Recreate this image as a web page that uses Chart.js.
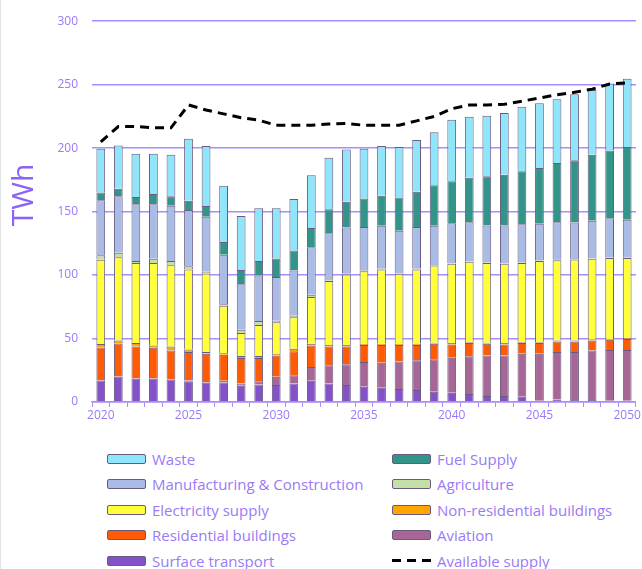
<!DOCTYPE html>
<html>
<head>
<meta charset="utf-8">
<script src="https://cdn.jsdelivr.net/npm/chart.js@4.4.1/dist/chart.umd.min.js"></script>
<style>
  body { margin: 0; background: #fff; font-family: 'Open Sans', sans-serif; }
  #wrap { position: relative; width: 642px; height: 569px; overflow: hidden; }
  #edge { position: absolute; left: 0; top: 0; width: 1px; height: 569px; background: #e2e2e2; }
  #box { position: absolute; left: 0; top: 0; width: 642px; height: 430px; }
  #legend { position: absolute; left: 107px; top: 446px; display: grid;
            grid-template-columns: 285px 250px; grid-auto-rows: 25.5px; }
  .item { display: flex; align-items: center; font-size: 15px; color: #9a7af5; white-space: nowrap; }
  .swatch { width: 37px; height: 8px; border: 1.5px solid #6a5a80; border-radius: 2px; margin-right: 6px; }
  .dash { width: 40px; height: 3px; margin-right: 5px;
          background: repeating-linear-gradient(90deg, #000 0 9px, transparent 9px 15px); }
</style>
</head>
<body>
<div id="wrap">
  <div id="edge"></div>
  <div id="box"><canvas id="emissionsChart"></canvas></div>
  <div id="legend"></div>
</div>
<script>
const years = ['2020','2021','2022','2023','2024','2025','2026','2027','2028','2029',
               '2030','2031','2032','2033','2034','2035','2036','2037','2038','2039',
               '2040','2041','2042','2043','2044','2045','2046','2047','2048','2049','2050'];

// TWh per sector, bottom of the stack first
const surfaceTransport = [17, 20, 18.5, 18.5, 17.7, 16.4, 15.4, 15.4, 12.8, 13.8,
                          13.3, 14.6, 16.7, 14.6, 13.3, 12, 11.2, 10.2, 9.4, 8,
                          7.3, 6.3, 4.7, 4.7, 4.2, 1, 2, 1.5, 1.5, 1, 1];
const aviation = [0, 0, 0, 0, 0, 0.5, 0.4, 1.3, 1.8, 2.6,
                  6.5, 6.4, 10.9, 14.4, 16.4, 19.5, 19.8, 21.8, 23.4, 25.6,
                  27.6, 29.7, 32, 32, 33.8, 37, 37.3, 37.8, 39.1, 40, 40];
const residential = [26, 26, 25.2, 24.2, 22.9, 22.4, 22.2, 20.5, 20, 18.2,
                     16.9, 19, 16.9, 14.8, 14.1, 13.5, 14, 13, 12.2, 12.2,
                     10.4, 10.4, 9.1, 8.6, 8.4, 8.4, 8.4, 8.4, 7.8, 8, 8.7];
const nonResidential = [2.6, 2.5, 2.7, 1.8, 3.2, 2.1, 1.3, 1.3, 1.6, 1.6,
                        1.3, 2, 1.3, 1.2, 1.2, 0.8, 0.8, 0.8, 0.8, 0.8,
                        1.1, 0.6, 0.8, 1.1, 0.6, 0.6, 0.7, 0.7, 0.8, 0.7, 0.8];
const electricity = [66.4, 65.5, 63.2, 65.1, 64, 63, 62, 37.3, 18.2, 24.5,
                     24.8, 24.7, 37, 50.3, 55.5, 57.2, 58.6, 55.2, 58.6, 60.9,
                     62.5, 63.4, 63, 62.5, 62.6, 64, 63.3, 63.8, 63.6, 63.8, 63];
const agriculture = [3.6, 3.5, 1.4, 3.2, 3.2, 2.6, 1.3, 1.2, 2.6, 3.1,
                     1.2, 1.3, 1.6, 0.7, 0.8, 0.6, 0.5, 0.5, 0.5, 0.5,
                     0.5, 0.5, 0.5, 0.5, 0.5, 0.5, 0.5, 0.5, 0.5, 0.5, 0.5];
const manufacturing = [43.4, 44.5, 44.7, 42.9, 43.7, 44.3, 43.4, 39, 35.7, 35.9,
                       34.4, 35.6, 37.5, 37, 36.2, 34.2, 33.9, 33.5, 32.9, 30.8,
                       31.5, 30.8, 28.9, 29.6, 29.9, 28.9, 29.5, 28.7, 29.4, 30.8, 29.5];
const fuelSupply = [6, 6, 5.8, 8.1, 7.3, 7.3, 8.4, 10, 11.2, 11.3,
                    14.6, 15.7, 15.1, 18.8, 20.3, 22.6, 23.7, 26.2, 27.8, 32,
                    33.1, 34.9, 38.9, 40, 41.8, 44, 46.6, 49, 52.1, 53.4, 57.3];
const waste = [34.5, 34, 34.1, 31.8, 32.8, 48.7, 47.2, 44.3, 42.7, 41.6,
               39.6, 40.7, 41.6, 40.6, 41.2, 39.1, 39.1, 39.6, 40.9, 41.7,
               48.4, 48.1, 47.6, 48.6, 50.8, 51, 50.2, 52, 51, 52.8, 53.9];
const availableSupply = [205, 217, 217, 216, 216, 234, 230, 227, 224, 222,
                         218, 218, 218, 219, 219.5, 218, 218, 218, 221.5, 225,
                         231, 234, 234, 234.5, 237, 239.5, 242, 244, 246.5, 250.5, 251.5];

const yTicks = [0, 50, 100, 150, 200, 250, 300];
const legendOrder = ['Waste', 'Fuel Supply', 'Manufacturing & Construction', 'Agriculture',
                     'Electricity supply', 'Non-residential buildings', 'Residential buildings',
                     'Aviation', 'Surface transport', 'Available supply'];

const purple = '#9a7af5';
const gridPurple = '#a98cff';
const edge = '#6a5a80';

function barSet(label, data, color) {
    return {
        type: 'bar',
        label: label,
        data: data,
        backgroundColor: color,
        borderColor: edge,
        borderWidth: 1,
        barPercentage: 0.5,
        categoryPercentage: 1,
        order: 1
    };
}

const yTitle = {
    id: 'yTitle',
    afterDraw(chart) {
        const ctx = chart.ctx;
        ctx.save();
        ctx.translate(24, 195);
        ctx.rotate(-Math.PI / 2);
        ctx.font = '30px "Open Sans"';
        ctx.fillStyle = '#8b63f7';
        ctx.textAlign = 'center';
        ctx.textBaseline = 'middle';
        ctx.fillText('TWh', 0, 0);
        ctx.restore();
    }
};

const ctx = document.getElementById('emissionsChart').getContext('2d');
const chart = new Chart(ctx, {
    data: {
        labels: years,
        datasets: [
            barSet('Surface transport', surfaceTransport, '#8352c9'),
            barSet('Aviation', aviation, '#a66796'),
            barSet('Residential buildings', residential, '#ff5b05'),
            barSet('Non-residential buildings', nonResidential, '#ffa500'),
            barSet('Electricity supply', electricity, '#ffff3c'),
            barSet('Agriculture', agriculture, '#c4e0a6'),
            barSet('Manufacturing & Construction', manufacturing, '#a9bce6'),
            barSet('Fuel Supply', fuelSupply, '#33958a'),
            barSet('Waste', waste, '#8fe5fa'),
            {
                type: 'line',
                label: 'Available supply',
                data: availableSupply,
                borderColor: '#000',
                borderWidth: 3,
                borderDash: [9, 6],
                pointRadius: 0,
                tension: 0,
                fill: false,
                order: 0
            }
        ]
    },
    options: {
        responsive: true,
        maintainAspectRatio: false,
        animation: false,
        layout: { padding: { top: 16, right: 6, left: 0, bottom: 0 } },
        plugins: {
            legend: { display: false },
            tooltip: { enabled: false }
        },
        scales: {
            x: {
                stacked: true,
                offset: true,
                grid: {
                    offset: true,
                    drawOnChartArea: false,
                    drawTicks: true,
                    tickLength: 5,
                    color: gridPurple
                },
                border: { color: gridPurple, width: 1.5 },
                ticks: {
                    autoSkip: false,
                    maxRotation: 0,
                    padding: 1,
                    color: purple,
                    font: { family: 'Open Sans', size: 12 },
                    callback: function(value, index) {
                        const year = years[index];
                        return Number(year) % 5 === 0 ? year : '';
                    }
                },
                afterFit: function(scale) { scale.height = 28; }
            },
            y: {
                stacked: true,
                min: 0,
                max: 300,
                afterBuildTicks: function(scale) {
                    scale.ticks = yTicks.map(v => ({ value: v }));
                },
                grid: {
                    color: gridPurple,
                    lineWidth: 1.5,
                    drawTicks: false
                },
                border: { display: false },
                ticks: {
                    padding: 14,
                    color: purple,
                    font: { family: 'Open Sans', size: 12 }
                },
                afterFit: function(scale) { scale.width = 92; }
            }
        }
    },
    plugins: [yTitle]
});

// html legend in the same two-column order as the original
const legend = document.getElementById('legend');
legendOrder.forEach(name => {
    const ds = chart.data.datasets.find(d => d.label === name);
    const item = document.createElement('div');
    item.className = 'item';
    const mark = document.createElement('span');
    if (ds.type === 'line') {
        mark.className = 'dash';
    } else {
        mark.className = 'swatch';
        mark.style.background = ds.backgroundColor;
    }
    item.appendChild(mark);
    item.appendChild(document.createTextNode(ds.label));
    legend.appendChild(item);
});
</script>
</body>
</html>
